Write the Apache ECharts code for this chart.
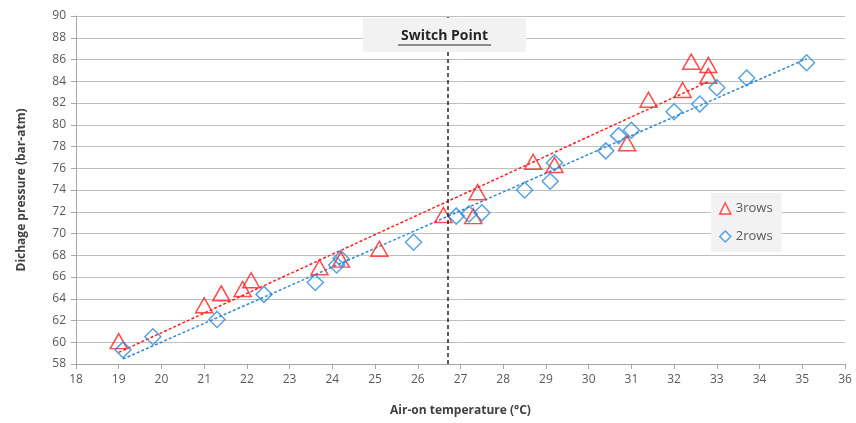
<!DOCTYPE html>
<html><head><meta charset="utf-8">
<script src="https://cdn.jsdelivr.net/npm/echarts@6/dist/echarts.min.js"></script>
<style>html,body{margin:0;padding:0;background:#fff}#c{width:856px;height:423px}</style>
</head><body><div id="c"></div>
<script>
// Data
const rows3X = [19.0, 21.0, 21.4, 21.9, 22.1, 23.7, 24.2, 25.1, 26.6, 27.3, 27.4, 28.7, 29.2, 30.9, 31.4, 32.2, 32.4, 32.8, 32.8];
const rows3Y = [60.1, 63.4, 64.5, 64.9, 65.7, 66.9, 67.6, 68.6, 71.7, 71.6, 73.8, 76.6, 76.3, 78.3, 82.3, 83.2, 85.8, 85.5, 84.5];
const rows2X = [19.1, 19.8, 21.3, 22.4, 23.6, 24.1, 24.2, 25.9, 26.9, 27.2, 27.5, 28.5, 29.1, 29.2, 30.4, 30.7, 31.0, 32.0, 32.6, 33.0, 33.7, 35.1];
const rows2Y = [59.3, 60.5, 62.1, 64.4, 65.5, 67.1, 67.7, 69.2, 71.6, 71.8, 71.9, 74.0, 74.8, 76.5, 77.6, 79.0, 79.5, 81.2, 81.9, 83.4, 84.3, 85.7];
const seriesNames = ['3rows', '2rows'];
const switchPoint = 26.7;
const switchLabel = 'Switch Point';
const xTitle = 'Air-on temperature (°C)';
const yTitle = 'Dichage pressure (bar-atm)';

function zip(xs, ys){ return xs.map((x,i)=>[x, ys[i]]); }
function trend(xs, ys){
  const n = xs.length;
  const mx = xs.reduce((a,b)=>a+b,0)/n, my = ys.reduce((a,b)=>a+b,0)/n;
  let sxy=0, sxx=0;
  for(let i=0;i<n;i++){ sxy += (xs[i]-mx)*(ys[i]-my); sxx += (xs[i]-mx)*(xs[i]-mx); }
  const b = sxy/sxx, a = my - b*mx;
  const x0 = Math.min(...xs), x1 = Math.max(...xs);
  return [[x0, a+b*x0],[x1, a+b*x1]];
}
const RED = '#ff1f1f', BLUE = '#2f8bd6';
const chart = echarts.init(document.getElementById('c'), null, {renderer:'canvas'});
const font = 'Open Sans, Liberation Sans, sans-serif';
chart.setOption({
  animation:false,
  grid:{left:76, right:11, top:16, bottom:59},
  xAxis:{type:'value', min:18, max:36, interval:1,
    name:xTitle, nameLocation:'middle', nameGap:41,
    nameTextStyle:{fontFamily:font, fontWeight:'bold', fontSize:12, color:'#404040'},
    axisLine:{lineStyle:{color:'#a6a6a6'}},
    axisTick:{show:true, length:5, lineStyle:{color:'#a6a6a6'}},
    axisLabel:{fontFamily:font, fontSize:12, color:'#595959', margin:10},
    splitLine:{show:false}},
  yAxis:{type:'value', min:58, max:90, interval:2,
    name:yTitle, nameLocation:'middle', nameGap:48,
    nameTextStyle:{fontFamily:font, fontWeight:'bold', fontSize:12, color:'#404040'},
    axisLine:{show:true, lineStyle:{color:'#a6a6a6'}},
    axisTick:{show:true, length:5, lineStyle:{color:'#a6a6a6'}},
    axisLabel:{fontFamily:font, fontSize:12, color:'#595959', margin:10},
    splitLine:{lineStyle:{color:'#bfbfbf', width:1}}},
  legend:{data:[
      {name:seriesNames[0], icon:'triangle', itemStyle:{color:'#fff', borderColor:RED, borderWidth:1.5}},
      {name:seriesNames[1], icon:'diamond', itemStyle:{color:'#fff', borderColor:BLUE, borderWidth:1.5}}],
    orient:'vertical', left:711, top:193, itemWidth:11, itemHeight:11, itemGap:15,
    padding:[9,9,9,8], backgroundColor:'#f2f2f2',
    textStyle:{fontFamily:font, fontSize:13, color:'#595959'}},
  graphic:[
    {type:'rect', z:100, shape:{x:363, y:18, width:163, height:34}, style:{fill:'#f2f2f2'}},
    {type:'text', z:101, style:{x:444.5, y:36, text:switchLabel, align:'center', verticalAlign:'middle',
      font:'bold 14px '+font, fill:'#262626'}},
    {type:'line', z:101, shape:{x1:398, y1:45, x2:491, y2:45}, style:{stroke:'#262626', lineWidth:1.2}}
  ],
  series:[
    {name:seriesNames[0], type:'scatter', data:zip(rows3X, rows3Y), symbol:'triangle', symbolSize:[17,15], z:4,
      itemStyle:{color:'rgba(255,255,255,0)', borderColor:RED, borderWidth:1.5}},
    {name:seriesNames[1], type:'scatter', data:zip(rows2X, rows2Y), symbol:'diamond', symbolSize:[16,16], z:4,
      itemStyle:{color:'rgba(255,255,255,0)', borderColor:BLUE, borderWidth:1.5},
      markLine:{silent:true, symbol:'none', label:{show:false},
        lineStyle:{color:'#262626', type:[4,3], width:1.5},
        data:[{xAxis:switchPoint}]}},
    {name:'t3', type:'line', data:trend(rows3X, rows3Y), symbol:'none', z:3,
      lineStyle:{color:RED, type:[3,2], width:1.5}},
    {name:'t2', type:'line', data:trend(rows2X, rows2Y), symbol:'none', z:3,
      lineStyle:{color:BLUE, type:[3,2], width:1.5}}
  ]
});
</script></body></html>
